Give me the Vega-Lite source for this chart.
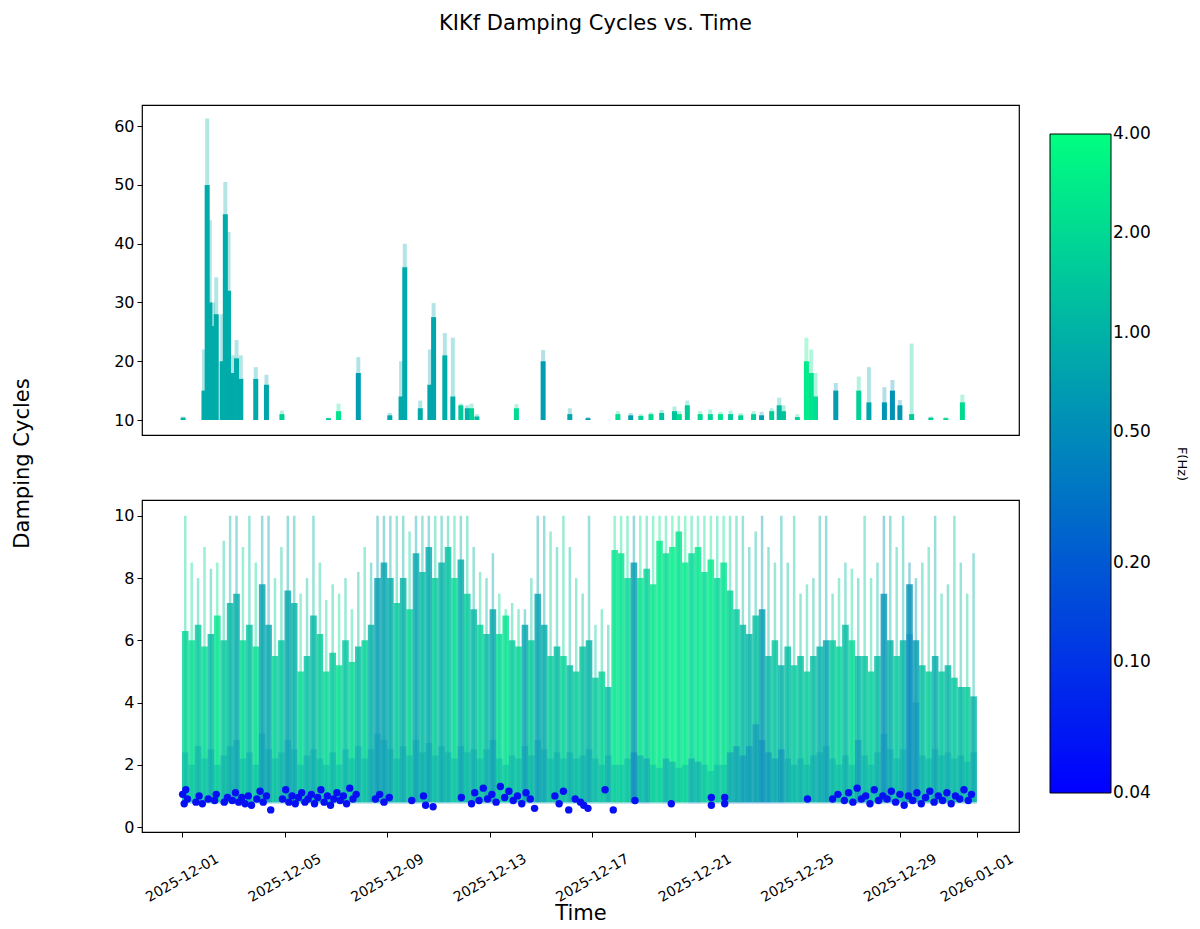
{
  "$schema": "https://vega.github.io/schema/vega-lite/v6.json",
  "padding": {"left": 10, "top": 13, "right": 5, "bottom": 5},
  "bounds": "flush",
  "spacing": 65,
  "title": {
    "text": "KIKf Damping Cycles vs. Time",
    "fontSize": 21,
    "fontWeight": "normal",
    "color": "black",
    "anchor": "middle",
    "frame": "group",
    "offset": 70,
    "dx": 15
  },
  "datasets": {
    "top": [
      {"t": "2025-12-01T01:00", "hi": 10.6, "body": 10.4, "f": 1.0},
      {"t": "2025-12-01T20:30", "hi": 22, "body": 15, "f": 0.9},
      {"t": "2025-12-01T23:30", "hi": 61.3, "body": 50, "f": 0.9},
      {"t": "2025-12-02T02:00", "hi": 44, "body": 30, "f": 0.9},
      {"t": "2025-12-02T05:00", "hi": 30, "body": 26, "f": 0.9},
      {"t": "2025-12-02T08:00", "hi": 34.3, "body": 28, "f": 0.9},
      {"t": "2025-12-02T13:30", "hi": 28, "body": 20, "f": 0.9},
      {"t": "2025-12-02T16:30", "hi": 50.5, "body": 45, "f": 0.9},
      {"t": "2025-12-02T19:30", "hi": 42, "body": 32, "f": 0.9},
      {"t": "2025-12-02T23:30", "hi": 21, "body": 18, "f": 0.85},
      {"t": "2025-12-03T03:00", "hi": 23.6, "body": 20.5, "f": 0.9},
      {"t": "2025-12-03T07:00", "hi": 21, "body": 17, "f": 0.85},
      {"t": "2025-12-03T21:00", "hi": 19, "body": 17, "f": 0.85},
      {"t": "2025-12-04T07:00", "hi": 17.7, "body": 16, "f": 0.8},
      {"t": "2025-12-04T21:30", "hi": 11.6, "body": 11, "f": 1.6},
      {"t": "2025-12-06T17:00", "hi": 10.4, "body": 10.3, "f": 1.5},
      {"t": "2025-12-07T02:30", "hi": 12.8, "body": 11.5, "f": 2.5},
      {"t": "2025-12-07T21:00", "hi": 20.7, "body": 18, "f": 0.7},
      {"t": "2025-12-09T02:30", "hi": 11.2, "body": 10.8, "f": 0.8},
      {"t": "2025-12-09T13:00", "hi": 20, "body": 14, "f": 0.85},
      {"t": "2025-12-09T16:30", "hi": 40, "body": 36, "f": 0.85},
      {"t": "2025-12-10T07:00", "hi": 13.3, "body": 12, "f": 0.9},
      {"t": "2025-12-10T16:00", "hi": 22, "body": 16, "f": 0.8},
      {"t": "2025-12-10T19:30", "hi": 29.9, "body": 27.5, "f": 0.8},
      {"t": "2025-12-11T06:00", "hi": 24.8, "body": 21, "f": 0.9},
      {"t": "2025-12-11T13:30", "hi": 24, "body": 14, "f": 0.9},
      {"t": "2025-12-11T21:00", "hi": 12.8, "body": 12.5, "f": 1.5},
      {"t": "2025-12-12T03:00", "hi": 12.5, "body": 12, "f": 1.0},
      {"t": "2025-12-12T07:00", "hi": 12.8, "body": 12, "f": 1.8},
      {"t": "2025-12-12T12:00", "hi": 11, "body": 10.6, "f": 1.2},
      {"t": "2025-12-14T01:00", "hi": 12.7, "body": 12, "f": 2.0},
      {"t": "2025-12-15T02:00", "hi": 21.9, "body": 20, "f": 0.7},
      {"t": "2025-12-16T03:00", "hi": 12, "body": 11, "f": 0.8},
      {"t": "2025-12-16T20:00", "hi": 10.5, "body": 10.3, "f": 0.6},
      {"t": "2025-12-18T00:00", "hi": 11.5, "body": 11, "f": 2.2},
      {"t": "2025-12-18T12:00", "hi": 11.2, "body": 10.8, "f": 0.7},
      {"t": "2025-12-18T21:30", "hi": 11, "body": 10.7, "f": 1.8},
      {"t": "2025-12-19T07:00", "hi": 11.3, "body": 11, "f": 2.0},
      {"t": "2025-12-19T17:00", "hi": 11.7, "body": 11.2, "f": 1.3},
      {"t": "2025-12-20T05:00", "hi": 12.3, "body": 11.5, "f": 1.4},
      {"t": "2025-12-20T09:30", "hi": 11.5, "body": 11, "f": 2.2},
      {"t": "2025-12-20T17:00", "hi": 13.3, "body": 12.5, "f": 1.6},
      {"t": "2025-12-21T05:00", "hi": 11.5, "body": 11, "f": 2.0},
      {"t": "2025-12-21T14:30", "hi": 11.8, "body": 11, "f": 1.8},
      {"t": "2025-12-22T00:00", "hi": 11.4, "body": 11, "f": 2.4},
      {"t": "2025-12-22T09:30", "hi": 11.6, "body": 11, "f": 1.5},
      {"t": "2025-12-22T19:00", "hi": 11.2, "body": 10.8, "f": 1.8},
      {"t": "2025-12-23T07:00", "hi": 11.5, "body": 11, "f": 1.7},
      {"t": "2025-12-23T14:30", "hi": 11.4, "body": 10.8, "f": 0.7},
      {"t": "2025-12-24T00:00", "hi": 12, "body": 11.5, "f": 1.6},
      {"t": "2025-12-24T07:00", "hi": 13.8, "body": 12.5, "f": 1.2},
      {"t": "2025-12-24T11:00", "hi": 12.5, "body": 11.5, "f": 1.4},
      {"t": "2025-12-25T00:00", "hi": 11, "body": 10.5, "f": 1.8},
      {"t": "2025-12-25T08:30", "hi": 24, "body": 20, "f": 2.8},
      {"t": "2025-12-25T13:00", "hi": 22, "body": 18, "f": 2.5},
      {"t": "2025-12-25T17:00", "hi": 18, "body": 14, "f": 2.2},
      {"t": "2025-12-26T12:00", "hi": 16.3, "body": 15, "f": 0.7},
      {"t": "2025-12-27T09:30", "hi": 17.4, "body": 15, "f": 1.8},
      {"t": "2025-12-27T19:00", "hi": 19, "body": 13, "f": 0.8},
      {"t": "2025-12-28T09:30", "hi": 15.6, "body": 13, "f": 0.6},
      {"t": "2025-12-28T17:00", "hi": 16.8, "body": 15, "f": 0.55},
      {"t": "2025-12-29T00:00", "hi": 13.4, "body": 12.5, "f": 0.6},
      {"t": "2025-12-29T11:00", "hi": 23, "body": 11, "f": 1.5},
      {"t": "2025-12-30T05:00", "hi": 10.6, "body": 10.4, "f": 1.6},
      {"t": "2025-12-30T19:00", "hi": 10.5, "body": 10.3, "f": 1.8},
      {"t": "2025-12-31T10:30", "hi": 14.3, "body": 13, "f": 2.0}
    ],
    "bot": [
      {"t": "2025-12-01T03:00", "peak": 10, "body": 6.3, "f": 1.8, "low": 2.4, "fl": 0.75},
      {"t": "2025-12-01T09:00", "peak": 8.5, "body": 6.0, "f": 2.2, "low": 2.0, "fl": 0.8},
      {"t": "2025-12-01T15:00", "peak": 8.0, "body": 6.5, "f": 1.5, "low": 2.6, "fl": 0.7},
      {"t": "2025-12-01T21:00", "peak": 9.0, "body": 5.8, "f": 2.0, "low": 2.2, "fl": 0.8},
      {"t": "2025-12-02T03:00", "peak": 8.3, "body": 6.2, "f": 1.2, "low": 2.5, "fl": 0.7},
      {"t": "2025-12-02T09:00", "peak": 8.5, "body": 6.8, "f": 2.5, "low": 2.0, "fl": 0.8},
      {"t": "2025-12-02T15:00", "peak": 9.2, "body": 6.0, "f": 1.5, "low": 2.3, "fl": 0.7},
      {"t": "2025-12-02T21:00", "peak": 10, "body": 7.2, "f": 1.1, "low": 2.6, "fl": 0.65},
      {"t": "2025-12-03T03:00", "peak": 10, "body": 7.5, "f": 0.9, "low": 2.8, "fl": 0.6},
      {"t": "2025-12-03T09:00", "peak": 9.0, "body": 6.0, "f": 2.0, "low": 2.2, "fl": 0.75},
      {"t": "2025-12-03T15:00", "peak": 10, "body": 6.5, "f": 1.3, "low": 2.4, "fl": 0.7},
      {"t": "2025-12-03T21:00", "peak": 8.5, "body": 5.8, "f": 2.2, "low": 2.0, "fl": 0.8},
      {"t": "2025-12-04T03:00", "peak": 10, "body": 7.8, "f": 0.75, "low": 3.0, "fl": 0.6},
      {"t": "2025-12-04T09:00", "peak": 10, "body": 6.5, "f": 0.8, "low": 2.5, "fl": 0.65},
      {"t": "2025-12-04T15:00", "peak": 8.0, "body": 5.5, "f": 1.8, "low": 2.2, "fl": 0.75},
      {"t": "2025-12-04T21:00", "peak": 9.0, "body": 6.0, "f": 1.4, "low": 2.4, "fl": 0.7},
      {"t": "2025-12-05T03:00", "peak": 10, "body": 7.6, "f": 0.8, "low": 2.8, "fl": 0.6},
      {"t": "2025-12-05T09:00", "peak": 10, "body": 7.2, "f": 1.0, "low": 2.5, "fl": 0.7},
      {"t": "2025-12-05T15:00", "peak": 7.5, "body": 5.0, "f": 2.0, "low": 2.0, "fl": 0.8},
      {"t": "2025-12-05T21:00", "peak": 8.0, "body": 5.5, "f": 1.3, "low": 2.3, "fl": 0.7},
      {"t": "2025-12-06T03:00", "peak": 10, "body": 6.8, "f": 1.1, "low": 2.5, "fl": 0.7},
      {"t": "2025-12-06T09:00", "peak": 8.5, "body": 6.2, "f": 1.6, "low": 2.2, "fl": 0.75},
      {"t": "2025-12-06T15:00", "peak": 7.3, "body": 5.0, "f": 2.0, "low": 2.0, "fl": 0.8},
      {"t": "2025-12-06T21:00", "peak": 7.8, "body": 5.6, "f": 1.5, "low": 2.4, "fl": 0.7},
      {"t": "2025-12-07T03:00", "peak": 7.5, "body": 5.2, "f": 2.2, "low": 2.0, "fl": 0.8},
      {"t": "2025-12-07T09:00", "peak": 8.0, "body": 6.0, "f": 1.4, "low": 2.5, "fl": 0.7},
      {"t": "2025-12-07T15:00", "peak": 7.0, "body": 5.3, "f": 2.0, "low": 2.2, "fl": 0.75},
      {"t": "2025-12-07T21:00", "peak": 8.2, "body": 5.8, "f": 1.2, "low": 2.6, "fl": 0.65},
      {"t": "2025-12-08T03:00", "peak": 9.0, "body": 6.0, "f": 1.8, "low": 2.2, "fl": 0.75},
      {"t": "2025-12-08T09:00", "peak": 8.5, "body": 6.5, "f": 1.0, "low": 2.5, "fl": 0.7},
      {"t": "2025-12-08T15:00", "peak": 10, "body": 8.0, "f": 0.7, "low": 3.0, "fl": 0.6},
      {"t": "2025-12-08T21:00", "peak": 10, "body": 8.5, "f": 0.75, "low": 2.8, "fl": 0.6},
      {"t": "2025-12-09T03:00", "peak": 10, "body": 8.0, "f": 0.9, "low": 2.5, "fl": 0.7},
      {"t": "2025-12-09T09:00", "peak": 10, "body": 7.2, "f": 1.5, "low": 2.2, "fl": 0.75},
      {"t": "2025-12-09T15:00", "peak": 10, "body": 8.0, "f": 1.0, "low": 2.6, "fl": 0.7},
      {"t": "2025-12-09T21:00", "peak": 9.5, "body": 7.0, "f": 1.8, "low": 2.3, "fl": 0.8},
      {"t": "2025-12-10T03:00", "peak": 10, "body": 8.8, "f": 0.8, "low": 2.8, "fl": 0.65},
      {"t": "2025-12-10T09:00", "peak": 10, "body": 8.2, "f": 1.2, "low": 2.4, "fl": 0.7},
      {"t": "2025-12-10T15:00", "peak": 10, "body": 9.0, "f": 0.85, "low": 2.7, "fl": 0.65},
      {"t": "2025-12-10T21:00", "peak": 10, "body": 8.0, "f": 1.6, "low": 2.3, "fl": 0.75},
      {"t": "2025-12-11T03:00", "peak": 10, "body": 8.5, "f": 1.0, "low": 2.6, "fl": 0.7},
      {"t": "2025-12-11T09:00", "peak": 10, "body": 9.0, "f": 1.3, "low": 2.4, "fl": 0.7},
      {"t": "2025-12-11T15:00", "peak": 10, "body": 8.0, "f": 2.0, "low": 2.2, "fl": 0.8},
      {"t": "2025-12-11T21:00", "peak": 10, "body": 8.6, "f": 0.9, "low": 2.6, "fl": 0.65},
      {"t": "2025-12-12T03:00", "peak": 10, "body": 7.5, "f": 1.5, "low": 2.4, "fl": 0.75},
      {"t": "2025-12-12T09:00", "peak": 9.0, "body": 7.0, "f": 1.1, "low": 2.5, "fl": 0.7},
      {"t": "2025-12-12T15:00", "peak": 8.2, "body": 6.5, "f": 1.8, "low": 2.2, "fl": 0.8},
      {"t": "2025-12-12T21:00", "peak": 8.0, "body": 6.2, "f": 1.2, "low": 2.5, "fl": 0.7},
      {"t": "2025-12-13T03:00", "peak": 8.8, "body": 7.0, "f": 0.8, "low": 2.8, "fl": 0.6},
      {"t": "2025-12-13T09:00", "peak": 7.5, "body": 6.2, "f": 2.0, "low": 2.2, "fl": 0.8},
      {"t": "2025-12-13T15:00", "peak": 7.0, "body": 6.8, "f": 2.4, "low": 2.0, "fl": 0.8},
      {"t": "2025-12-13T21:00", "peak": 7.2, "body": 6.0, "f": 1.6, "low": 2.3, "fl": 0.75},
      {"t": "2025-12-14T03:00", "peak": 7.0, "body": 5.8, "f": 1.8, "low": 2.2, "fl": 0.75},
      {"t": "2025-12-14T09:00", "peak": 7.0, "body": 6.5, "f": 0.8, "low": 2.6, "fl": 0.6},
      {"t": "2025-12-14T15:00", "peak": 8.0, "body": 6.0, "f": 1.5, "low": 2.3, "fl": 0.7},
      {"t": "2025-12-14T21:00", "peak": 10, "body": 7.5, "f": 0.75, "low": 2.8, "fl": 0.6},
      {"t": "2025-12-15T03:00", "peak": 10, "body": 6.5, "f": 0.9, "low": 2.5, "fl": 0.65},
      {"t": "2025-12-15T09:00", "peak": 9.5, "body": 5.5, "f": 1.6, "low": 2.2, "fl": 0.75},
      {"t": "2025-12-15T15:00", "peak": 9.0, "body": 5.8, "f": 1.2, "low": 2.4, "fl": 0.7},
      {"t": "2025-12-15T21:00", "peak": 10, "body": 5.5, "f": 1.8, "low": 2.2, "fl": 0.75},
      {"t": "2025-12-16T03:00", "peak": 9.0, "body": 5.2, "f": 1.2, "low": 2.4, "fl": 0.7},
      {"t": "2025-12-16T09:00", "peak": 8.0, "body": 5.0, "f": 1.6, "low": 2.2, "fl": 0.75},
      {"t": "2025-12-16T15:00", "peak": 7.5, "body": 5.8, "f": 1.3, "low": 2.3, "fl": 0.7},
      {"t": "2025-12-16T21:00", "peak": 10, "body": 6.0, "f": 1.0, "low": 2.5, "fl": 0.65},
      {"t": "2025-12-17T03:00", "peak": 6.5, "body": 4.8, "f": 1.5, "low": 2.2, "fl": 0.75},
      {"t": "2025-12-17T09:00", "peak": 7.0, "body": 5.0, "f": 1.8, "low": 2.0, "fl": 0.8},
      {"t": "2025-12-17T15:00", "peak": 6.5, "body": 4.5, "f": 1.2, "low": 2.3, "fl": 0.7},
      {"t": "2025-12-17T21:00", "peak": 10, "body": 8.9, "f": 2.6, "low": 2.0, "fl": 0.8},
      {"t": "2025-12-18T03:00", "peak": 10, "body": 8.8, "f": 2.4, "low": 2.0, "fl": 0.8},
      {"t": "2025-12-18T09:00", "peak": 10, "body": 8.0, "f": 2.0, "low": 2.2, "fl": 0.75},
      {"t": "2025-12-18T15:00", "peak": 10, "body": 8.5, "f": 0.7, "low": 2.4, "fl": 0.3},
      {"t": "2025-12-18T21:00", "peak": 10, "body": 8.0, "f": 2.4, "low": 2.3, "fl": 0.35},
      {"t": "2025-12-19T03:00", "peak": 10, "body": 8.3, "f": 1.8, "low": 2.2, "fl": 0.35},
      {"t": "2025-12-19T09:00", "peak": 10, "body": 7.8, "f": 2.6, "low": 2.0, "fl": 0.8},
      {"t": "2025-12-19T15:00", "peak": 10, "body": 9.2, "f": 2.8, "low": 1.9, "fl": 0.8},
      {"t": "2025-12-19T21:00", "peak": 10, "body": 8.8, "f": 2.2, "low": 2.2, "fl": 0.35},
      {"t": "2025-12-20T03:00", "peak": 10, "body": 9.0, "f": 3.0, "low": 2.1, "fl": 0.35},
      {"t": "2025-12-20T09:00", "peak": 10, "body": 9.5, "f": 2.4, "low": 1.9, "fl": 0.8},
      {"t": "2025-12-20T15:00", "peak": 10, "body": 8.5, "f": 2.8, "low": 2.0, "fl": 0.8},
      {"t": "2025-12-20T21:00", "peak": 10, "body": 8.8, "f": 2.0, "low": 2.2, "fl": 0.35},
      {"t": "2025-12-21T03:00", "peak": 10, "body": 9.0, "f": 2.6, "low": 2.1, "fl": 0.3},
      {"t": "2025-12-21T09:00", "peak": 10, "body": 8.2, "f": 2.2, "low": 2.0, "fl": 0.8},
      {"t": "2025-12-21T15:00", "peak": 10, "body": 8.6, "f": 2.8, "low": 1.8, "fl": 0.75},
      {"t": "2025-12-21T21:00", "peak": 10, "body": 8.0, "f": 1.9, "low": 2.0, "fl": 0.8},
      {"t": "2025-12-22T03:00", "peak": 10, "body": 8.5, "f": 2.4, "low": 2.0, "fl": 0.8},
      {"t": "2025-12-22T09:00", "peak": 10, "body": 7.6, "f": 1.8, "low": 2.4, "fl": 0.3},
      {"t": "2025-12-22T15:00", "peak": 10, "body": 7.0, "f": 1.5, "low": 2.6, "fl": 0.3},
      {"t": "2025-12-22T21:00", "peak": 10, "body": 6.5, "f": 1.2, "low": 2.3, "fl": 0.3},
      {"t": "2025-12-23T03:00", "peak": 9.0, "body": 6.2, "f": 1.0, "low": 2.6, "fl": 0.35},
      {"t": "2025-12-23T09:00", "peak": 9.5, "body": 6.8, "f": 1.3, "low": 3.3, "fl": 0.3},
      {"t": "2025-12-23T15:00", "peak": 10, "body": 7.0, "f": 0.7, "low": 2.8, "fl": 0.35},
      {"t": "2025-12-23T21:00", "peak": 9.0, "body": 5.5, "f": 1.1, "low": 2.4, "fl": 0.3},
      {"t": "2025-12-24T03:00", "peak": 8.5, "body": 6.0, "f": 1.4, "low": 2.2, "fl": 0.35},
      {"t": "2025-12-24T09:00", "peak": 10, "body": 5.2, "f": 1.0, "low": 2.5, "fl": 0.3},
      {"t": "2025-12-24T15:00", "peak": 8.5, "body": 5.8, "f": 1.2, "low": 2.2, "fl": 0.6},
      {"t": "2025-12-24T21:00", "peak": 10, "body": 5.2, "f": 1.5, "low": 2.0, "fl": 0.7},
      {"t": "2025-12-25T03:00", "peak": 7.5, "body": 5.5, "f": 1.3, "low": 2.2, "fl": 0.7},
      {"t": "2025-12-25T09:00", "peak": 7.8, "body": 5.0, "f": 1.6, "low": 2.0, "fl": 0.75},
      {"t": "2025-12-25T15:00", "peak": 8.0, "body": 5.5, "f": 1.2, "low": 2.3, "fl": 0.7},
      {"t": "2025-12-25T21:00", "peak": 10, "body": 5.8, "f": 1.0, "low": 2.4, "fl": 0.65},
      {"t": "2025-12-26T03:00", "peak": 10, "body": 6.0, "f": 0.8, "low": 2.6, "fl": 0.6},
      {"t": "2025-12-26T09:00", "peak": 7.5, "body": 6.0, "f": 1.5, "low": 2.2, "fl": 0.7},
      {"t": "2025-12-26T15:00", "peak": 8.0, "body": 5.8, "f": 1.8, "low": 2.0, "fl": 0.75},
      {"t": "2025-12-26T21:00", "peak": 8.5, "body": 6.5, "f": 1.2, "low": 2.3, "fl": 0.7},
      {"t": "2025-12-27T03:00", "peak": 8.3, "body": 6.0, "f": 2.0, "low": 2.0, "fl": 0.8},
      {"t": "2025-12-27T09:00", "peak": 8.0, "body": 5.5, "f": 1.1, "low": 2.8, "fl": 0.35},
      {"t": "2025-12-27T15:00", "peak": 10, "body": 5.5, "f": 1.4, "low": 2.3, "fl": 0.7},
      {"t": "2025-12-27T21:00", "peak": 8.0, "body": 5.0, "f": 1.7, "low": 2.0, "fl": 0.75},
      {"t": "2025-12-28T03:00", "peak": 8.5, "body": 5.5, "f": 1.2, "low": 2.4, "fl": 0.7},
      {"t": "2025-12-28T09:00", "peak": 10, "body": 7.5, "f": 0.6, "low": 3.0, "fl": 0.5},
      {"t": "2025-12-28T15:00", "peak": 10, "body": 6.0, "f": 1.0, "low": 2.5, "fl": 0.65},
      {"t": "2025-12-28T21:00", "peak": 9.0, "body": 5.5, "f": 1.5, "low": 2.2, "fl": 0.75},
      {"t": "2025-12-29T03:00", "peak": 10, "body": 6.0, "f": 1.1, "low": 2.5, "fl": 0.7},
      {"t": "2025-12-29T09:00", "peak": 8.5, "body": 7.8, "f": 0.55, "low": 6.2, "fl": 0.4},
      {"t": "2025-12-29T15:00", "peak": 8.0, "body": 6.0, "f": 0.7, "low": 4.0, "fl": 0.45},
      {"t": "2025-12-29T21:00", "peak": 8.5, "body": 5.2, "f": 1.3, "low": 2.3, "fl": 0.7},
      {"t": "2025-12-30T03:00", "peak": 9.0, "body": 5.0, "f": 1.6, "low": 2.2, "fl": 0.75},
      {"t": "2025-12-30T09:00", "peak": 10, "body": 5.5, "f": 0.9, "low": 2.5, "fl": 0.65},
      {"t": "2025-12-30T15:00", "peak": 7.5, "body": 5.0, "f": 1.4, "low": 2.3, "fl": 0.7},
      {"t": "2025-12-30T21:00", "peak": 7.8, "body": 5.2, "f": 1.1, "low": 2.4, "fl": 0.7},
      {"t": "2025-12-31T03:00", "peak": 10, "body": 4.8, "f": 1.5, "low": 2.2, "fl": 0.75},
      {"t": "2025-12-31T09:00", "peak": 8.5, "body": 4.5, "f": 1.2, "low": 2.3, "fl": 0.7},
      {"t": "2025-12-31T15:00", "peak": 7.5, "body": 4.5, "f": 1.6, "low": 2.1, "fl": 0.75},
      {"t": "2025-12-31T21:00", "peak": 8.8, "body": 4.2, "f": 1.0, "low": 2.4, "fl": 0.7}
    ],
    "blue": [
      {"t": "2025-12-01T00:30", "v": 1.05}, {"t": "2025-12-01T02:00", "v": 0.75},
      {"t": "2025-12-01T03:30", "v": 1.2}, {"t": "2025-12-01T05:00", "v": 0.9},
      {"t": "2025-12-01T13:00", "v": 0.8}, {"t": "2025-12-01T16:00", "v": 1.0},
      {"t": "2025-12-01T19:00", "v": 0.75}, {"t": "2025-12-02T00:30", "v": 0.9},
      {"t": "2025-12-02T06:30", "v": 0.85}, {"t": "2025-12-02T08:00", "v": 1.05},
      {"t": "2025-12-02T15:30", "v": 0.8}, {"t": "2025-12-02T18:30", "v": 0.95},
      {"t": "2025-12-02T23:00", "v": 0.85}, {"t": "2025-12-03T02:00", "v": 1.1},
      {"t": "2025-12-03T05:00", "v": 0.8}, {"t": "2025-12-03T08:00", "v": 0.95},
      {"t": "2025-12-03T11:00", "v": 0.75}, {"t": "2025-12-03T14:00", "v": 1.0},
      {"t": "2025-12-03T17:00", "v": 0.7}, {"t": "2025-12-03T22:00", "v": 0.9},
      {"t": "2025-12-04T01:00", "v": 1.15}, {"t": "2025-12-04T04:00", "v": 0.8},
      {"t": "2025-12-04T07:00", "v": 1.0}, {"t": "2025-12-04T11:00", "v": 0.55},
      {"t": "2025-12-04T22:00", "v": 0.9}, {"t": "2025-12-05T01:00", "v": 1.2},
      {"t": "2025-12-05T04:00", "v": 0.8}, {"t": "2025-12-05T07:00", "v": 1.0},
      {"t": "2025-12-05T10:00", "v": 0.75}, {"t": "2025-12-05T13:00", "v": 0.95},
      {"t": "2025-12-05T16:00", "v": 1.1}, {"t": "2025-12-05T19:00", "v": 0.8},
      {"t": "2025-12-05T22:00", "v": 0.9}, {"t": "2025-12-06T01:00", "v": 1.05},
      {"t": "2025-12-06T04:00", "v": 0.75}, {"t": "2025-12-06T07:00", "v": 0.95},
      {"t": "2025-12-06T10:00", "v": 1.2}, {"t": "2025-12-06T13:00", "v": 0.8},
      {"t": "2025-12-06T16:00", "v": 1.0}, {"t": "2025-12-06T19:00", "v": 0.7},
      {"t": "2025-12-06T22:00", "v": 0.9}, {"t": "2025-12-07T01:00", "v": 1.1},
      {"t": "2025-12-07T04:00", "v": 0.85}, {"t": "2025-12-07T07:00", "v": 1.0},
      {"t": "2025-12-07T10:00", "v": 0.75}, {"t": "2025-12-07T13:00", "v": 1.25},
      {"t": "2025-12-07T16:00", "v": 0.9}, {"t": "2025-12-07T19:00", "v": 1.05},
      {"t": "2025-12-08T13:00", "v": 0.9}, {"t": "2025-12-08T17:00", "v": 1.05},
      {"t": "2025-12-08T21:00", "v": 0.8}, {"t": "2025-12-09T02:00", "v": 0.95},
      {"t": "2025-12-09T23:00", "v": 0.85}, {"t": "2025-12-10T10:00", "v": 1.0},
      {"t": "2025-12-10T12:00", "v": 0.7}, {"t": "2025-12-10T19:00", "v": 0.65},
      {"t": "2025-12-11T21:30", "v": 0.95}, {"t": "2025-12-12T07:00", "v": 0.75},
      {"t": "2025-12-12T10:00", "v": 1.1}, {"t": "2025-12-12T14:00", "v": 0.85},
      {"t": "2025-12-12T18:00", "v": 1.25}, {"t": "2025-12-12T22:00", "v": 0.9},
      {"t": "2025-12-13T02:00", "v": 1.05}, {"t": "2025-12-13T06:00", "v": 0.8},
      {"t": "2025-12-13T10:00", "v": 1.3}, {"t": "2025-12-13T14:00", "v": 0.95},
      {"t": "2025-12-13T18:00", "v": 1.15}, {"t": "2025-12-13T22:00", "v": 0.85},
      {"t": "2025-12-14T02:00", "v": 1.0}, {"t": "2025-12-14T06:00", "v": 0.75},
      {"t": "2025-12-14T10:00", "v": 1.1}, {"t": "2025-12-14T14:00", "v": 0.9},
      {"t": "2025-12-14T18:00", "v": 0.6}, {"t": "2025-12-15T13:00", "v": 1.0},
      {"t": "2025-12-15T17:00", "v": 0.75}, {"t": "2025-12-15T21:00", "v": 1.15},
      {"t": "2025-12-16T02:00", "v": 0.55}, {"t": "2025-12-16T08:00", "v": 0.9},
      {"t": "2025-12-16T13:00", "v": 0.8}, {"t": "2025-12-16T16:00", "v": 0.7},
      {"t": "2025-12-16T20:00", "v": 0.6}, {"t": "2025-12-17T12:00", "v": 1.2},
      {"t": "2025-12-17T19:40", "v": 0.55}, {"t": "2025-12-18T16:00", "v": 0.85},
      {"t": "2025-12-20T02:00", "v": 0.75}, {"t": "2025-12-21T15:30", "v": 0.7},
      {"t": "2025-12-21T15:30", "v": 0.95}, {"t": "2025-12-22T04:00", "v": 0.75},
      {"t": "2025-12-22T04:00", "v": 0.95}, {"t": "2025-12-25T09:30", "v": 0.9},
      {"t": "2025-12-26T09:00", "v": 0.9}, {"t": "2025-12-26T14:00", "v": 1.05},
      {"t": "2025-12-26T20:00", "v": 0.85}, {"t": "2025-12-27T00:00", "v": 1.1},
      {"t": "2025-12-27T04:00", "v": 0.8}, {"t": "2025-12-27T08:00", "v": 1.25},
      {"t": "2025-12-27T12:00", "v": 0.9}, {"t": "2025-12-27T16:00", "v": 1.0},
      {"t": "2025-12-27T20:00", "v": 0.75}, {"t": "2025-12-28T00:00", "v": 1.2},
      {"t": "2025-12-28T04:00", "v": 0.85}, {"t": "2025-12-28T08:00", "v": 1.0},
      {"t": "2025-12-28T12:00", "v": 0.9}, {"t": "2025-12-28T16:00", "v": 1.15},
      {"t": "2025-12-28T20:00", "v": 0.8}, {"t": "2025-12-29T00:00", "v": 1.05},
      {"t": "2025-12-29T04:00", "v": 0.7}, {"t": "2025-12-29T08:00", "v": 1.0},
      {"t": "2025-12-29T12:00", "v": 0.85}, {"t": "2025-12-29T16:00", "v": 1.1},
      {"t": "2025-12-29T20:00", "v": 0.75}, {"t": "2025-12-30T00:00", "v": 0.95},
      {"t": "2025-12-30T04:00", "v": 1.15}, {"t": "2025-12-30T08:00", "v": 0.8},
      {"t": "2025-12-30T12:00", "v": 1.0}, {"t": "2025-12-30T16:00", "v": 0.85},
      {"t": "2025-12-30T20:00", "v": 1.1}, {"t": "2025-12-31T00:00", "v": 0.75},
      {"t": "2025-12-31T04:00", "v": 1.0}, {"t": "2025-12-31T08:00", "v": 0.9},
      {"t": "2025-12-31T12:00", "v": 1.2}, {"t": "2025-12-31T16:00", "v": 0.85},
      {"t": "2025-12-31T19:00", "v": 1.05}
    ]
  },
  "resolve": {"scale": {"color": "shared"}},
  "vconcat": [
    {
      "width": 877,
      "height": 330,
      "data": {"name": "top"},
      "layer": [
        {
          "mark": {"type": "rule", "strokeWidth": 5},
          "encoding": {
            "x": {
              "field": "t",
              "type": "temporal",
              "scale": {
                "domain": [
                  {"year": 2025, "month": 11, "date": 29, "hours": 10, "minutes": 30},
                  {"year": 2026, "month": 1, "date": 2, "hours": 15, "minutes": 30}
                ]
              },
              "axis": null
            },
            "y": {
              "field": "body",
              "type": "quantitative",
              "scale": {"domain": [7.45, 63.6], "nice": false, "zero": false},
              "axis": {
                "values": [10, 20, 30, 40, 50, 60],
                "title": "Damping Cycles",
                "titleX": -120,
                "titleY": 358,
                "titleAngle": 270,
                "titleAlign": "center",
                "titleBaseline": "middle"
              }
            },
            "y2": {"datum": 10},
            "color": {
              "field": "f",
              "type": "quantitative",
              "scale": {"type": "log", "domain": [0.0399, 4.01], "range": ["#0000ff", "#00ff80"], "interpolate": "rgb"},
              "legend": {
                "title": "F(Hz)",
                "values": [0.04, 0.1, 0.2, 0.5, 1, 2, 4],
                "format": ".2f"
              }
            }
          }
        },
        {
          "mark": {"type": "rule", "strokeWidth": 4, "strokeOpacity": 0.3},
          "encoding": {
            "x": {"field": "t", "type": "temporal"},
            "y": {"field": "hi", "type": "quantitative"},
            "y2": {"datum": 10},
            "color": {"field": "f", "type": "quantitative"}
          }
        }
      ]
    },
    {
      "width": 877,
      "height": 332,
      "layer": [
        {
          "data": {"name": "bot"},
          "mark": {"type": "rule", "strokeWidth": 6.6, "strokeOpacity": 0.8},
          "encoding": {
            "x": {
              "field": "t",
              "type": "temporal",
              "scale": {
                "domain": [
                  {"year": 2025, "month": 11, "date": 29, "hours": 10, "minutes": 30},
                  {"year": 2026, "month": 1, "date": 2, "hours": 15, "minutes": 30}
                ]
              },
              "axis": {
                "values": [
                  {"year": 2025, "month": 12, "date": 1},
                  {"year": 2025, "month": 12, "date": 5},
                  {"year": 2025, "month": 12, "date": 9},
                  {"year": 2025, "month": 12, "date": 13},
                  {"year": 2025, "month": 12, "date": 17},
                  {"year": 2025, "month": 12, "date": 21},
                  {"year": 2025, "month": 12, "date": 25},
                  {"year": 2025, "month": 12, "date": 29},
                  {"year": 2026, "month": 1, "date": 1}
                ],
                "format": "%Y-%m-%d",
                "labelAngle": -30,
                "labelAlign": "center",
                "labelBaseline": "middle",
                "labelPadding": 41,
                "labelFontSize": 14,
                "labelOverlap": false,
                "title": "Time",
                "titleY": 81,
                "titleBaseline": "middle"
              }
            },
            "y": {
              "field": "body",
              "type": "quantitative",
              "scale": {"domain": [-0.16, 10.51], "nice": false, "zero": false},
              "axis": {"values": [0, 2, 4, 6, 8, 10], "title": null}
            },
            "y2": {"datum": 0.8},
            "color": {"field": "f", "type": "quantitative"}
          }
        },
        {
          "data": {"name": "bot"},
          "mark": {"type": "rule", "strokeWidth": 2.5, "strokeOpacity": 0.4},
          "encoding": {
            "x": {"field": "t", "type": "temporal"},
            "y": {"field": "peak", "type": "quantitative"},
            "y2": {"datum": 0.8},
            "color": {"field": "f", "type": "quantitative"}
          }
        },
        {
          "data": {"name": "bot"},
          "mark": {"type": "rule", "strokeWidth": 6.6, "strokeOpacity": 0.35},
          "encoding": {
            "x": {"field": "t", "type": "temporal"},
            "y": {"field": "low", "type": "quantitative"},
            "y2": {"datum": 0.75},
            "color": {"field": "fl", "type": "quantitative"}
          }
        },
        {
          "data": {"name": "blue"},
          "mark": {"type": "circle", "size": 55, "fillOpacity": 1, "color": "#0610f2"},
          "encoding": {
            "x": {"field": "t", "type": "temporal"},
            "y": {"field": "v", "type": "quantitative"}
          }
        }
      ]
    }
  ],
  "config": {
    "font": "DejaVu Sans",
    "view": {"stroke": "black", "strokeWidth": 1.2},
    "axis": {
      "domain": false,
      "grid": false,
      "ticks": true,
      "tickColor": "black",
      "tickSize": 5,
      "labelColor": "black",
      "labelFontSize": 16,
      "labelPadding": 3,
      "titleColor": "black",
      "titleFontSize": 21,
      "titleFontWeight": "normal"
    },
    "legend": {
      "orient": "none",
      "legendX": 908,
      "legendY": 29,
      "direction": "vertical",
      "gradientLength": 659,
      "gradientThickness": 61,
      "gradientStrokeColor": "black",
      "gradientStrokeWidth": 1,
      "labelFontSize": 17,
      "labelColor": "black",
      "labelOffset": 22,
      "labelBaseline": "middle",
      "labelOverlap": false,
      "titleOrient": "right",
      "titleAngle": 270,
      "titleFontSize": 13,
      "titleFontWeight": "normal",
      "titleColor": "black",
      "titleAnchor": "middle",
      "titlePadding": 24
    }
  }
}
